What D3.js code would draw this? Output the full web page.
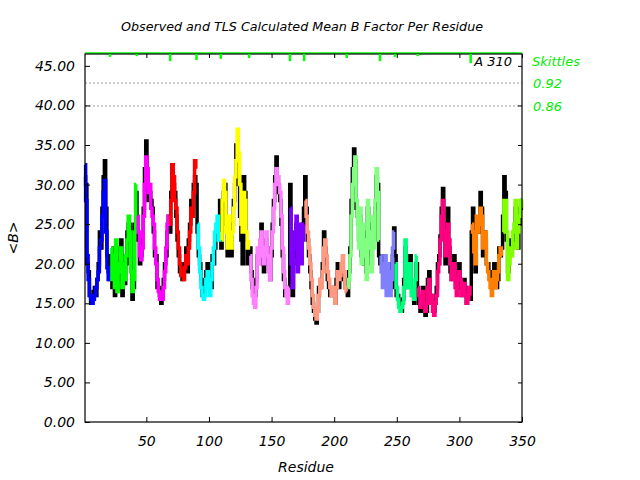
<!DOCTYPE html>
<html><head><meta charset="utf-8">
<script src="https://cdn.jsdelivr.net/npm/d3@7"></script>
<style>
html,body{margin:0;padding:0;background:#fff;}
text{font-family:"DejaVu Sans",sans-serif;font-style:italic;}
</style></head>
<body>
<svg id="chart" width="640" height="480"></svg>
<script>
// ---------- data ----------
const segmentStarts = [1, 22, 43, 69, 91, 110, 133, 165, 177, 211, 237, 249, 267, 310, 335];
const segmentColors = ["#0000ff","#00ff00","#ff00ff","#ff0000","#00ffff","#ffff00","#ff80ff","#8000ff",
                       "#ff9980","#80ff80","#8080ff","#00ff80","#ff0080","#ff8000","#80ff00"];
// TLS calculated mean B per residue (1..350)
const tlsCalc = [
 32.5,28,21,18,16,15.5,15,15.5,16,17,18,19,22,23,26,29,30.5,24,19.5,18,18.5,
 22,18,21,17,23,16.5,20,19,22,17,20,18,21,23,26,24,19,16.5,18,24,30,
 26,24,21,20.5,22,26,30,33.5,32,29,30,27,26,25,22,20,18,16.5,15.5,16,15.5,17,19,22,25,26,
 25,28,32.5,31,28,27,24,22,20,18.5,19,18,19.5,21,20,22,24,27,26,29,33,32,
 25,22,19,17,16,15.5,16,18,19,17,16,18,20,22,24,25,26,23,24,
 23,28,30.5,29,24,22,26,23,22,24,27,31,33,37,34,30,25,24,29,28,24,22,23,
 21,18,16,15,14.5,17,22,20,23,24,21,20,22,24,21,19,18,22,24,27,30,32,31,30,29,26,22,19,17,16,15,17,
 27,20,17,22,24,26,19,22,25,20,23,25,
 28,26,24,22,20,18,16,14.5,13.5,13,14,16,18,17,19,22,23,21,19,18,17,16,17,16,15,17,19,18,18.5,20,21,19,17,16.5,
 17,18,21,26,30,32,33.5,28,25,22,27,20,25,21,23,18,28,22,24,19,26,22,28,32,29,23,
 21,19,17,20,21,16,20,19,16,18,22,24,
 20,17,15.5,14.5,14,14.5,15,17,23,20,17,19,20,16,17,15.5,18,21,
 17,16,14.5,15,16.5,15,14,15,17,18,15,16,14,13.5,15,16,19,20,23,26,28,24,21,22,25,23,20,18,19,20,17,16,18,19,18,16,17,17.5,16,15,15.5,17,16,
 25,24,21.5,20,26,24,25,27,26,22,23,24,20,19,18,17,16,18,19,17,18,19,21,22,21,
 24,28,28,24,18,20,22,21,24,25,28,22,24,26,28,27
];
// Observed mean B per residue (1..350)
const observed = [
 31,30,20,19,16,15,16,16.5,17,16,18,20,24,22,27,31,33,27,21,19,18,
 21,17,22,16,22,17,21,18,23,16,21,17.5,20,24,25,25,20,15.5,17,25,29,
 25,23,20,21,23,27,32,35.5,31,28,29,28,27,24,21,21,17,17,16,15,16,18,20,21,24,26,
 24,29,32.5,30,29,26,23,21,19,19,18,20,19,22,19,23,25,28,27,30,31,30,
 24,21,20,18,16,16,17,19,20,18,17,17,21,20,22,24,25,25,28,
 22,27,29,30,25,21,25,22,21,25,28,30,35,32,31,26,23,20,31,29,23,20,22,
 22,19,17,16,16,18,21,21,22,25,20,19,21,23,22,20,18,21,25,28,31,33.5,31,29,28,25,21,18,16,16,16,17,
 30,19,16,21,23,25,20,21,24,22,25,27,
 31,27,23,21,19,17,15,14,13,12.5,14,17,17,18,20,24,22,20,18,17,16,17,16,17,15,18,20,17,19,20,19,18,17,17,
 16,19,22,28,32,34.5,33,27,26,23,26,21,24,20,24,19,27,21,25,20,25,23,27,31,30,21,
 20,20,19,21,20,17,19,20,17,17,21,24.5,
 21,16,16,15,14.5,14,15.5,18,22,19,17,18,21,17,16,15,17,20,
 16,15,14,16,17,16,13.5,14,18,19,16,15,15,14,16,17,20,21,23.5,27,29.5,25,20,23,27,22,19,18,20,21,18,17,17,20,17,16,18,18,17,15,16,16,15.5,
 24,27,22,19,25,25,24,29,27,21,24,23,20,20,19,18,17,17,20,18,17,18,22,21,22,
 26,31,29,23,19,21,23,22,23,24,27,23,22,25,27,28
];
// Skittles markers at segment boundaries (residue, value)
const skittleResidues = [21, 42.3, 69, 90, 109.4, 132, 164.7, 176, 210, 236.6, 248.6, 266.7, 309];
const skittleValues   = [0.988, 0.990, 0.977, 0.980, 0.983, 0.985, 0.977, 0.977, 0.985, 0.977, 0.988, 0.990, 0.972];
const skittleTicks = [0.92, 0.86];
const yTicks = [0,5,10,15,20,25,30,35,40,45];
const xTicks = [50,100,150,200,250,300,350];
const chartTitle = "Observed and TLS Calculated Mean B Factor Per Residue";
const chainLabel = "A 310";

// ---------- drawing ----------
const svg = d3.select("#chart");
const L = 85, R = 522, T = 54, B = 422;
const x = d3.scaleLinear().domain([1, 350]).range([L, R]);
const y = d3.scaleLinear().domain([0, 46.5]).range([B, T]);
const ys = d3.scaleLinear().domain([0.86, 0.92]).range([106, 83]);

svg.append("text").attr("x", 302).attr("y", 31).attr("text-anchor","middle")
  .attr("font-size", 12.7).text(chartTitle);

// dotted skittle reference lines
svg.selectAll("line.skref").data(skittleTicks).enter().append("line")
  .attr("x1", L).attr("x2", R).attr("y1", d=>ys(d)).attr("y2", d=>ys(d))
  .attr("stroke", "#999").attr("stroke-width", 1).attr("stroke-dasharray", "2,2");

const residues = d3.range(1, 351);
const line = d3.line().x(d=>x(d[0])).y(d=>y(d[1])).curve(d3.curveStep);

// observed (black)
svg.append("path").datum(residues.map(r=>[r, observed[r-1]]))
  .attr("d", line).attr("fill","none").attr("stroke","#000").attr("stroke-width",3.5);

// TLS calculated per segment
segmentStarts.forEach((s, i) => {
  const e = i < segmentStarts.length-1 ? segmentStarts[i+1]-1 : 350;
  const pts = d3.range(s, e+1).map(r=>[r, tlsCalc[r-1]]);
  svg.append("path").datum(pts).attr("d", line).attr("fill","none")
    .attr("stroke", segmentColors[i]).attr("stroke-width", 3.5);
});

// frame and axes
svg.append("line").attr("x1", L).attr("x2", R).attr("y1", T-1).attr("y2", T-1)
  .attr("stroke","#00ff00").attr("stroke-width",1.5);
svg.append("rect").attr("x", L).attr("y", T).attr("width", R-L).attr("height", B-T)
  .attr("fill","none").attr("stroke","#000").attr("stroke-width",1.2);

const gl = svg.append("g").attr("transform", `translate(${L},0)`)
  .call(d3.axisLeft(y).tickValues(yTicks).tickSize(-5).tickPadding(10).tickFormat(d3.format(".2f")));
const gr = svg.append("g").attr("transform", `translate(${R},0)`)
  .call(d3.axisRight(y).tickValues(yTicks).tickSize(-4).tickFormat(""));
const gb = svg.append("g").attr("transform", `translate(0,${B})`)
  .call(d3.axisBottom(x).tickValues(xTicks).tickSize(-5).tickPadding(14));
const gt = svg.append("g").attr("transform", `translate(0,${T})`)
  .call(d3.axisTop(x).tickValues(xTicks).tickSize(-4).tickFormat(""));
[gl, gr, gb, gt].forEach(g => {
  g.select(".domain").remove();
  g.selectAll("text").attr("font-size", 14).attr("fill","#000")
    .attr("font-family","'DejaVu Sans',sans-serif").attr("font-style","italic");
});

// skittle hanging ticks
svg.selectAll("line.sk").data(skittleResidues).enter().append("line")
  .attr("x1", d=>x(d)).attr("x2", d=>x(d))
  .attr("y1", T).attr("y2", (d,i)=>ys(skittleValues[i]))
  .attr("stroke","#00ff00").attr("stroke-width",2.5);

// labels
svg.append("text").attr("x", 512).attr("y", 66).attr("text-anchor","end")
  .attr("font-size", 13).text(chainLabel);
svg.append("text").attr("x", 532).attr("y", 66).attr("font-size", 13).attr("fill","#00ee00").text("Skittles");
svg.selectAll("text.skl").data(skittleTicks).enter().append("text")
  .attr("x", 533).attr("y", d=>ys(d)+5).attr("font-size", 13).attr("fill","#00ee00")
  .text(d=>d.toFixed(2));

svg.append("text").attr("x", 306).attr("y", 472).attr("text-anchor","middle")
  .attr("font-size", 14).text("Residue");
svg.append("text").attr("transform","translate(18,238) rotate(-90)").attr("text-anchor","middle")
  .attr("font-size", 14).text("<B>");
</script>
</body></html>
